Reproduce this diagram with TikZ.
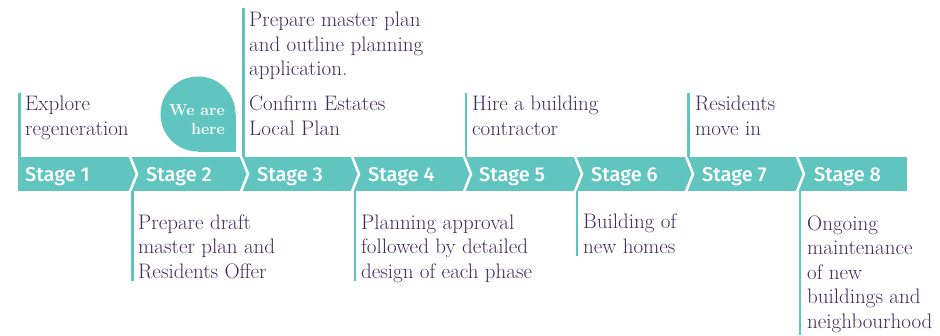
\documentclass[tikz,border=0pt]{standalone}
\usepackage{fontspec}
\setsansfont{Fira Sans}
\newfontfamily\stagefont{Fira Sans Medium}
\usetikzlibrary{calc}
\definecolor{stageteal}{HTML}{5FC5BE}
\definecolor{notepurple}{HTML}{3F2B5E}
\tikzset{
	note/.style={anchor=base west, align=left, inner sep=0pt, text=notepurple, font=\fontsize{21}{24.5}\selectfont},
	stagelabel/.style={anchor=base west, inner sep=0pt, text=white, font=\stagefont\fontsize{20}{20}\selectfont},
	tick/.style={stageteal, line width=2.5pt}
}
\def\chevron(#1){\draw[white, line width=2.6pt] (#1,154) -- (#1+8,174) -- (#1,194);}

\begin{document}
\begin{tikzpicture}[x=1pt, y=-1pt]
			%%%%% START %%%%%
			\useasboundingbox (0,0) rectangle (940,335);
			
			% bar
			\fill[stageteal] (18,157) rectangle (907,191);
			\chevron(129)
			\chevron(240)
			\chevron(351)
			\chevron(463)
			\chevron(574)
			\chevron(685)
			\chevron(796)
			
			\node[stagelabel] (s1) at (25,181) {Stage 1};
			\node[stagelabel] (s2) at (146,181) {Stage 2};
			\node[stagelabel] (s3) at (257,181) {Stage 3};
			\node[stagelabel] (s4) at (368,181) {Stage 4};
			\node[stagelabel] (s5) at (479,181) {Stage 5};
			\node[stagelabel] (s6) at (591,181) {Stage 6};
			\node[stagelabel] (s7) at (702,181) {Stage 7};
			\node[stagelabel] (s8) at (814,181) {Stage 8};
			
			% ticks above
			\draw[tick] (19.5,93) -- (19.5,157);
			\draw[tick] (243.5,8) -- (243.5,157);
			\draw[tick] (466,93) -- (466,157);
			\draw[tick] (688.5,93) -- (688.5,157);
			
			% ticks below
			\draw[tick] (132.5,191) -- (132.5,281);
			\draw[tick] (355,191) -- (355,281);
			\draw[tick] (577,191) -- (577,256);
			\draw[tick] (800,191) -- (800,335);
			
			% notes (placed at the baseline of their last line)
			\node[note] (n1) at (25,135) {Explore\\regeneration};
			\node[note] (n3) at (249,135) {Prepare master plan\\and outline planning\\application.\\[10.5pt]Confirm Estates\\Local Plan};
			\node[note] (n5) at (472,135) {Hire a building\\contractor};
			\node[note] (n7) at (695,135) {Residents\\move in};
			\node[note] (n2) at (138,278) {Prepare draft\\master plan and\\Residents Offer};
			\node[note] (n4) at (361,278) {Planning approval\\followed by detailed\\design of each phase};
			\node[note] (n6) at (583,253) {Building of\\new homes};
			\node[note] (n8) at (807,328) {Ongoing\\maintenance\\of new\\buildings and\\neighbourhood};
			
			% we are here
			\fill[stageteal] (198,114) circle (37.5pt);
			\fill[stageteal] (198,114) rectangle (236,152);
			\node[anchor=base east, align=right, inner sep=0pt, text=white, font=\bfseries\fontsize{16}{19}\selectfont] (here) at (225,134) {We are\\here};
			
			%%%%% END %%%%%
		\end{tikzpicture}
\end{document}
